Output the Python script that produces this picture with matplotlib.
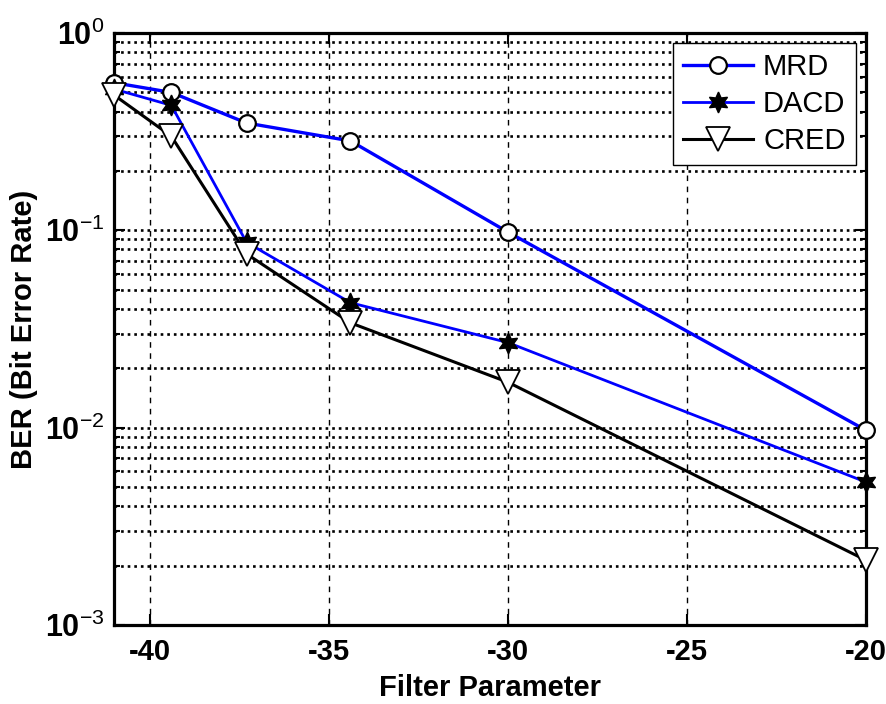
import matplotlib
matplotlib.use("Agg")
import matplotlib.pyplot as plt
from matplotlib.ticker import FixedLocator, FixedFormatter, LogLocator, NullFormatter

plt.rcParams['font.family'] = ['Liberation Sans', 'DejaVu Sans']
plt.rcParams['mathtext.fontset'] = 'custom'
plt.rcParams['mathtext.rm'] = 'Liberation Sans'
plt.rcParams['mathtext.bf'] = 'Liberation Sans:bold'

x_vals = [-41.0, -39.4, -37.3, -34.4, -30.0, -20.0]
mrd = [0.56, 0.50, 0.35, 0.284, 0.098, 0.0097]
dacd = [0.52, 0.43, 0.087, 0.043, 0.027, 0.0053]
cred = [0.485, 0.30, 0.076, 0.034, 0.017, 0.00213]
series_names = ['MRD', 'DACD', 'CRED']
x_ticks = [-40, -35, -30, -25, -20]
y_ticks = [1e-3, 1e-2, 1e-1, 1e0]
y_tick_labels = [r'$\mathbf{10}^{\mathregular{-3}}$', r'$\mathbf{10}^{\mathregular{-2}}$',
                 r'$\mathbf{10}^{\mathregular{-1}}$', r'$\mathbf{10}^{\mathregular{0}}$']

fig = plt.figure(figsize=(8.86, 7.04), dpi=100)
ax = fig.add_axes([0.1287, 0.1122, 0.8487, 0.8409])

ax.plot(x_vals, mrd, color='#0000ff', lw=2.4, marker='o', ms=12, mfc='white', mec='black', mew=1.6,
        label=series_names[0], zorder=3, clip_on=False)
ax.plot(x_vals, dacd, color='#0000ff', lw=2.0, marker=(6, 1, 0), ms=15, mfc='black', mec='black', mew=1.0,
        label=series_names[1], zorder=3, clip_on=False)
ax.plot(x_vals, cred, color='black', lw=2.2, marker='v', ms=17, mfc='white', mec='black', mew=1.3,
        label=series_names[2], zorder=3, clip_on=False)

ax.set_yscale('log')
ax.set_xlim(-41, -20)
ax.set_ylim(1e-3, 1e0)
ax.xaxis.set_major_locator(FixedLocator(x_ticks))
ax.set_xticklabels([str(t) for t in x_ticks])
ax.yaxis.set_major_locator(FixedLocator(y_ticks))
ax.yaxis.set_major_formatter(FixedFormatter(y_tick_labels))
ax.yaxis.set_minor_locator(LogLocator(base=10, subs=range(2, 10)))
ax.yaxis.set_minor_formatter(NullFormatter())

ax.tick_params(which='both', direction='in', top=True, right=True, width=1.5)
ax.tick_params(which='major', length=8, pad=9)
ax.tick_params(which='minor', length=4)
ax.tick_params(axis='x', labelsize=21)
ax.tick_params(axis='y', labelsize=22, pad=7)
for lab in ax.get_xticklabels():
    lab.set_fontweight('bold')

ax.grid(True, axis='x', which='major', color='black', linestyle=(0, (4, 4)), linewidth=1.0)
ax.grid(True, axis='y', which='both', color='black', linestyle=(0, (1, 1.5)), linewidth=1.9)

for sp in ax.spines.values():
    sp.set_linewidth(2.3)

ax.set_xlabel('Filter Parameter', fontsize=21, fontweight='bold', labelpad=6)
ax.set_ylabel('BER (Bit Error Rate)', fontsize=21, fontweight='bold', labelpad=5)

leg = ax.legend(loc='upper right', fontsize=21, frameon=True, fancybox=False, framealpha=1,
                edgecolor='black', handlelength=2.4, borderaxespad=0.35, labelspacing=0.3,
                borderpad=0.35, handletextpad=0.35)
leg.get_frame().set_linewidth(1.0)

fig.savefig('out.png', dpi=100)
